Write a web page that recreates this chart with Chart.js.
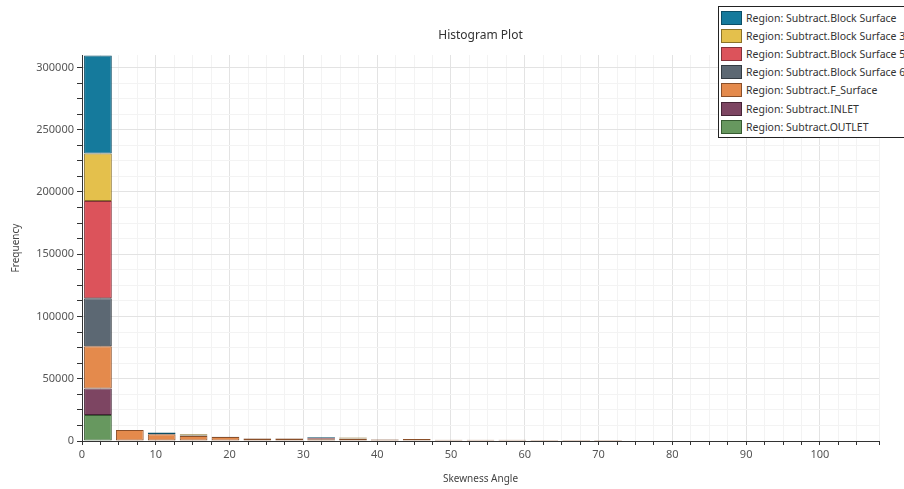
<!DOCTYPE html>
<html>
<head>
<meta charset="utf-8">
<script src="https://cdn.jsdelivr.net/npm/chart.js@4/dist/chart.umd.min.js"></script>
<style>
  html, body { margin: 0; padding: 0; background: #fff; overflow: hidden; }
  #wrap { position: relative; width: 904px; height: 489px; }
  #legend {
    position: absolute; left: 718px; top: 6px; width: 190px; height: 132px;
    border: 1px solid #222; background: #fff; box-sizing: border-box;
    font: 10.5px "Noto Sans", sans-serif; color: #333; padding-top: 2px;
  }
  #legend div { height: 18.1px; display: flex; align-items: center; white-space: nowrap; }
  #legend span { display: inline-block; width: 21px; height: 14px; margin: 0 4px 0 2px; box-sizing: border-box; border: 1px solid; }
</style>
</head>
<body>
<div id="wrap">
  <canvas id="histChart" width="904" height="489"></canvas>
  <div id="legend"></div>
</div>
<script>
// bin centres (skewness angle) and counts per region
var binCenters = [2.16, 6.48, 10.8, 15.12, 19.44, 23.76, 28.08, 32.4, 36.72, 41.04, 45.36, 49.68, 54, 58.32, 62.64, 66.96, 71.28];

var regionNames = ['Region: Subtract.Block Surface', 'Region: Subtract.Block Surface 3', 'Region: Subtract.Block Surface 5',
  'Region: Subtract.Block Surface 6', 'Region: Subtract.F_Surface', 'Region: Subtract.INLET', 'Region: Subtract.OUTLET'];

var blockSurface  = [78640, 0, 1200, 0, 0, 0, 0, 800, 0, 0, 0, 0, 0, 0, 0, 0, 0];
var blockSurface3 = [38160, 0, 0, 1000, 0, 0, 0, 0, 800, 0, 0, 0, 0, 0, 0, 0, 0];
var blockSurface5 = [78160, 0, 0, 0, 0, 0, 0, 600, 0, 0, 0, 0, 0, 0, 0, 0, 0];
var blockSurface6 = [38640, 0, 300, 400, 300, 200, 200, 200, 300, 100, 0, 0, 0, 0, 0, 0, 0];
var fSurface      = [33840, 8800, 5400, 4000, 3200, 2000, 2000, 1500, 1800, 1300, 1600, 1000, 1000, 1000, 900, 900, 900];
var inlet         = [21360, 0, 0, 0, 0, 0, 0, 0, 0, 0, 0, 0, 0, 0, 0, 0, 0];
var outlet        = [20800, 0, 0, 0, 0, 0, 0, 0, 0, 0, 0, 0, 0, 0, 0, 0, 0];

// y tick labels (major), minor ticks every quarter step
var yTickLabels = [0, 50000, 100000, 150000, 200000, 250000, 300000];
var xTickLabels = [0, 10, 20, 30, 40, 50, 60, 70, 80, 90, 100];

var seriesValues = [blockSurface, blockSurface3, blockSurface5, blockSurface6, fSurface, inlet, outlet];
var fillColors   = ['#157a9c', '#e4c04c', '#dc535b', '#5c6873', '#e48a4c', '#7d4562', '#67985f'];
var borderColors = ['#0b4e66', '#8a7228', '#84323a', '#333b42', '#8a4f29', '#452436', '#375c32'];

var datasets = [];
// bottom of the stack first (OUTLET), top last (Block Surface)
for (var i = regionNames.length - 1; i >= 0; i--) {
  datasets.push({
    label: regionNames[i],
    data: binCenters.map(function (x, j) { return {x: x, y: seriesValues[i][j]}; }),
    backgroundColor: fillColors[i],
    borderColor: borderColors[i],
    borderWidth: 1,
    borderSkipped: false,
    xAxisID: 'xb',
    categoryPercentage: 1.0,
    barPercentage: 0.87
  });
}

function isMajor(list, v) { return list.indexOf(v) !== -1; }

var fontFamily = '"Noto Sans", sans-serif';
var ctx = document.getElementById('histChart').getContext('2d');
var histChart = new Chart(ctx, {
  type: 'bar',
  data: { datasets: datasets },
  options: {
    responsive: false,
    animation: false,
    layout: { padding: { left: 0, right: 25, top: 0, bottom: 0 } },
    plugins: {
      legend: { display: false },
      tooltip: { enabled: false },
      title: {
        display: true, text: 'Histogram Plot', fullSize: false,
        color: '#333', font: { family: fontFamily, size: 12, weight: 'normal' },
        padding: { top: 28, bottom: 12.6 }
      }
    },
    scales: {
      xb: {
        type: 'linear', display: false, stacked: true, offset: false,
        min: 0, max: 108, ticks: { stepSize: 10 }, grid: { offset: false }
      },
      x: {
        type: 'linear', position: 'bottom', offset: false,
        min: 0, max: 108,
        afterFit: function (s) { s.height = 48; },
        border: { display: true, color: '#333', width: 1 },
        grid: {
          offset: false, tickLength: 4, tickColor: '#333',
          color: function (c) { return c.tick && isMajor(xTickLabels, c.tick.value) ? '#e3e3e3' : '#f3f3f3'; }
        },
        ticks: {
          stepSize: 2.5, autoSkip: false, maxRotation: 0, padding: 3,
          color: '#555', font: { family: fontFamily, size: 11 },
          callback: function (v) { return isMajor(xTickLabels, v) ? String(v) : ''; }
        },
        title: {
          display: true, text: 'Skewness Angle', color: '#444',
          font: { family: fontFamily, size: 10 }, padding: { top: 0, bottom: 4 }
        }
      },
      y: {
        type: 'linear', stacked: true, min: 0, max: 310000,
        afterFit: function (s) { s.width = 82; },
        afterBuildTicks: function (s) {
          var t = [];
          var step = (yTickLabels[1] - yTickLabels[0]) / 4;
          for (var v = 0; v <= yTickLabels[yTickLabels.length - 1]; v += step) t.push({ value: v });
          s.ticks = t;
        },
        border: { display: true, color: '#333', width: 1 },
        grid: {
          tickLength: 5, tickColor: '#333',
          color: function (c) { return c.tick && isMajor(yTickLabels, c.tick.value) ? '#e3e3e3' : '#f3f3f3'; }
        },
        ticks: {
          autoSkip: false, padding: 3,
          color: '#555', font: { family: fontFamily, size: 11 },
          callback: function (v) { return isMajor(yTickLabels, v) ? String(v) : ''; }
        },
        title: {
          display: true, text: 'Frequency', color: '#444',
          font: { family: fontFamily, size: 10 }, padding: { top: 10, bottom: 0 }
        }
      }
    }
  }
});

// legend box drawn as html, in the order of the region list
var legendEl = document.getElementById('legend');
regionNames.forEach(function (name, i) {
  var row = document.createElement('div');
  var sw = document.createElement('span');
  sw.style.background = fillColors[i];
  sw.style.borderColor = borderColors[i];
  row.appendChild(sw);
  row.appendChild(document.createTextNode(name));
  legendEl.appendChild(row);
});
</script>
</body>
</html>
